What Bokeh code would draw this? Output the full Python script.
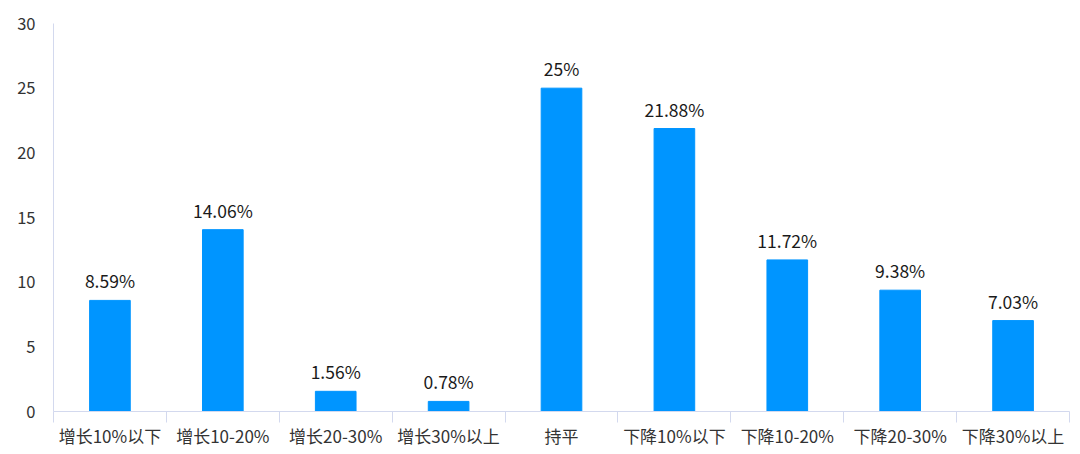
from bokeh.plotting import figure
from bokeh.models import ColumnDataSource, FixedTicker, Range1d
from bokeh.embed import file_html
from bokeh.resources import INLINE

categories = ["增长10%以下", "增长10-20%", "增长20-30%", "增长30%以上", "持平",
              "下降10%以下", "下降10-20%", "下降20-30%", "下降30%以上"]
values = [8.59, 14.06, 1.56, 0.78, 25, 21.88, 11.72, 9.38, 7.03]
y_ticks = [0, 5, 10, 15, 20, 25, 30]

FONT = "Noto Sans CJK SC"
n = len(categories)
xs = [i + 0.5 for i in range(n)]
labels = [f"{v:g}%" for v in values]

src = ColumnDataSource(dict(x=xs, top=values, label=labels))

p = figure(width=1080, height=454, output_backend="svg", toolbar_location=None,
           x_range=Range1d(0, n), y_range=Range1d(0, 30),
           frame_width=1016, frame_height=388,
           min_border_left=53, min_border_right=11, min_border_top=23, min_border_bottom=43)
p.outline_line_color = None
p.xgrid.grid_line_color = None
p.ygrid.grid_line_color = None

p.vbar(x="x", top="top", width=0.36, bottom=0, source=src, color="#0095ff")
p.text(x="x", y="top", text="label", source=src, text_align="center",
       text_baseline="bottom", y_offset=-7, text_font_size="17.5px",
       text_color="#1a1a1a", text_font={"value": FONT})

ax = p.xaxis[0]
ax.ticker = FixedTicker(ticks=xs, minor_ticks=list(range(n + 1)))
ax.major_label_overrides = {x: c for x, c in zip(xs, categories)}
ax.major_tick_out = 0
ax.major_tick_in = 0
ax.minor_tick_out = 11
ax.minor_tick_in = 0
ax.axis_line_color = "#d3d9ee"
ax.minor_tick_line_color = "#d3d9ee"
ax.major_label_standoff = 0
ax.major_label_text_font = FONT
ax.major_label_text_font_size = "17px"
ax.major_label_text_color = "#333333"

ay = p.yaxis[0]
ay.ticker = FixedTicker(ticks=y_ticks)
ay.axis_line_color = "#d3d9ee"
ay.major_tick_line_color = None
ay.minor_tick_line_color = None
ay.major_tick_out = 0
ay.major_tick_in = 0
ay.minor_tick_out = 0
ay.minor_tick_in = 0
ay.major_label_standoff = 18
ay.major_label_text_font = FONT
ay.major_label_text_font_size = "16.5px"
ay.major_label_text_color = "#333333"

open("out.html", "w").write(file_html(p, INLINE))
